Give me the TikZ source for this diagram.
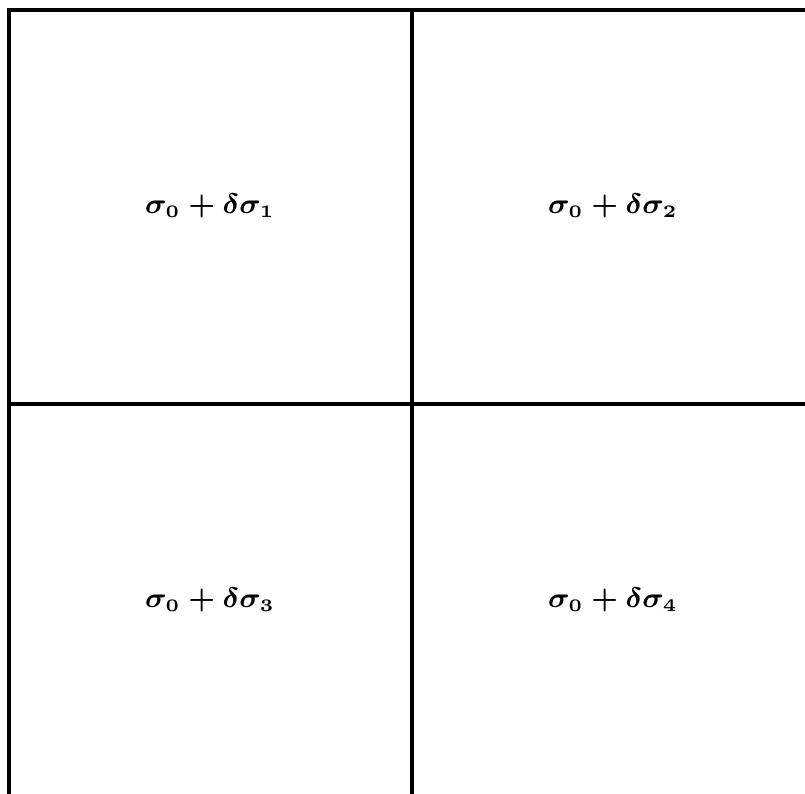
\documentclass[tikz,border=0pt]{standalone}
\begin{document}
\begin{tikzpicture}[x=0.01cm,y=-0.01cm,
  rule/.style={line width=0.9pt,black},
  lab/.style={font=\fontsize{7.8}{9}\selectfont\boldmath}]
\useasboundingbox (0,0) rectangle (805,794);
\coordinate (tl) at (9,10);
\coordinate (tr) at (805,10);
\coordinate (bl) at (9,794);
\coordinate (tm) at (412,10);
\coordinate (bm) at (412,794);
\coordinate (ml) at (9,404);
\coordinate (mr) at (805,404);
\draw[rule] (bl) -- (tl) -- (tr);
\draw[rule] (tm) -- (bm);
\draw[rule] (ml) -- (mr);
\node[lab] (a) at (210,206) {$\sigma_0+\delta\sigma_1$};
\node[lab] (b) at (613,206) {$\sigma_0+\delta\sigma_2$};
\node[lab] (c) at (210,600) {$\sigma_0+\delta\sigma_3$};
\node[lab] (d) at (613,600) {$\sigma_0+\delta\sigma_4$};
\end{tikzpicture}
\end{document}
